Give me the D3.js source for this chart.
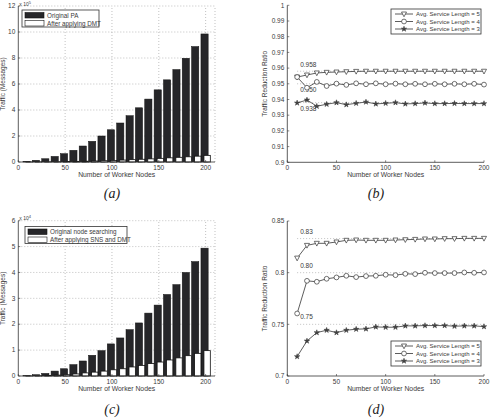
<!DOCTYPE html>
<html><head><meta charset="utf-8">
<script src="https://cdn.jsdelivr.net/npm/d3@7"></script>
<style>body{margin:0;background:#fff}svg{display:block}</style>
</head><body>
<svg id="c" width="497" height="418"></svg>
<script>
// ---- data ----
const nodes = [10,20,30,40,50,60,70,80,90,100,110,120,130,140,150,160,170,180,190,200];

// (a) traffic x10^5
const paOriginal = [0.05,0.13,0.25,0.43,0.64,0.9,1.23,1.59,2.0,2.48,3.0,3.56,4.17,4.84,5.55,6.32,7.11,7.98,8.88,9.85];
const paDMT      = [0.003,0.006,0.012,0.02,0.032,0.045,0.06,0.08,0.10,0.12,0.15,0.18,0.21,0.24,0.28,0.32,0.36,0.40,0.45,0.51];
const aTicksY = [0,2,4,6,8,10,12];
const aLegend = ["Original PA","After applying DMT"];

// (c) traffic x10^4
const nsOriginal = [0.01,0.05,0.1,0.19,0.28,0.44,0.58,0.8,0.98,1.24,1.47,1.79,2.05,2.43,2.74,3.15,3.53,4.0,4.42,4.94];
const nsSNSDMT   = [0.005,0.01,0.02,0.035,0.05,0.08,0.12,0.15,0.19,0.24,0.28,0.35,0.41,0.48,0.54,0.62,0.70,0.785,0.875,0.98];
const cTicksY = [0,1,2,3,4,5,6];
const cLegend = ["Original node searching","After applying SNS and DMT"];

// (b) traffic reduction ratio
const bLen5 = [0.9543,0.9556,0.9569,0.9573,0.9575,0.9577,0.9579,0.958,0.958,0.958,0.958,0.958,0.958,0.958,0.958,0.958,0.958,0.958,0.958,0.958];
const bLen4 = [0.9543,0.9475,0.9512,0.9486,0.9501,0.9493,0.9503,0.9497,0.9503,0.9497,0.9501,0.9497,0.95,0.9497,0.95,0.9497,0.95,0.9497,0.95,0.9495];
const bLen3 = [0.9378,0.9397,0.9357,0.937,0.938,0.9367,0.9376,0.9384,0.9372,0.9376,0.938,0.9372,0.9374,0.9378,0.9374,0.9374,0.9375,0.9374,0.9374,0.9374];
const bTicksY = [0.9,0.91,0.92,0.93,0.94,0.95,0.96,0.97,0.98,0.99,1];
const bRefs = [0.958,0.950,0.938];
const bRefLabels = ["0.958","0.950","0.938"];

// (d) traffic reduction ratio
const dLen5 = [0.8141,0.8264,0.8284,0.8284,0.8297,0.8313,0.8316,0.8313,0.8313,0.8313,0.8316,0.8319,0.8322,0.8326,0.8326,0.8329,0.8329,0.8332,0.8332,0.8332];
const dLen4 = [0.7605,0.7921,0.7912,0.7941,0.7954,0.797,0.7957,0.7967,0.797,0.798,0.7976,0.7989,0.7986,0.7999,0.7996,0.7996,0.7996,0.8002,0.7999,0.8002];
const dLen3 = [0.7188,0.7339,0.742,0.7443,0.742,0.7443,0.7453,0.7456,0.7475,0.7472,0.7472,0.7485,0.7485,0.7488,0.7488,0.7488,0.7482,0.7485,0.7485,0.7478];
const dTicksY = [0.7,0.75,0.8,0.85];
const dRefs = [0.833,0.800,0.750];
const dRefLabels = ["0.83","0.80","0.75"];

const xTicksBar = [0,50,100,150,200];
const xTicksLine = [0,50,100,150,200];
const lineLegend = ["Avg. Service Length = 5","Avg. Service Length = 4","Avg. Service Length = 3"];
const captions = ["(a)","(b)","(c)","(d)"];

// ---- drawing ----
const svg = d3.select("#c");
const FONT = "Liberation Sans, Arial, sans-serif";
const TXT = "#3a3a3a";

function axes(g, x, y, xt, yt, yfmt) {
  const [x0,x1] = x.range(), [y0,y1] = y.range();
  g.append("line").attr("x1",x0).attr("x2",x1).attr("y1",y0).attr("y2",y0).attr("stroke","#333").attr("stroke-width",0.8);
  g.append("line").attr("x1",x0).attr("x2",x0).attr("y1",y0).attr("y2",y1).attr("stroke","#333").attr("stroke-width",0.8);
  xt.forEach(t=>{
    g.append("line").attr("x1",x(t)).attr("x2",x(t)).attr("y1",y0).attr("y2",y0-2).attr("stroke","#333").attr("stroke-width",0.6);
    g.append("text").attr("x",x(t)).attr("y",y0+8).attr("text-anchor","middle").attr("font-size",6.5).attr("fill",TXT).attr("font-family",FONT).text(t);
  });
  yt.forEach(t=>{
    g.append("line").attr("x1",x0).attr("x2",x0+2).attr("y1",y(t)).attr("y2",y(t)).attr("stroke","#333").attr("stroke-width",0.6);
    g.append("text").attr("x",x0-3).attr("y",y(t)+2.2).attr("text-anchor","end").attr("font-size",6.5).attr("fill",TXT).attr("font-family",FONT).text(yfmt(t));
  });
}

function labels(g, x, y, ylab, yLabX) {
  const [x0,x1] = x.range(), [y0,y1] = y.range();
  g.append("text").attr("x",(x0+x1)/2).attr("y",y0+15).attr("text-anchor","middle").attr("font-size",6.8).attr("fill",TXT).attr("font-family",FONT).text("Number of Worker Nodes");
  g.append("text").attr("transform",`translate(${yLabX},${(y0+y1)/2}) rotate(-90)`).attr("text-anchor","middle").attr("font-size",6.5).attr("fill",TXT).attr("font-family",FONT).text(ylab);
}

function barPanel(o) {
  const g = svg.append("g");
  const x = d3.scaleLinear().domain([0,210]).range([o.left,o.right]);
  const y = d3.scaleLinear().domain([0,d3.max(o.ticks)]).range([o.bottom,o.top]);
  o.ticks.slice(1).forEach(t=>g.append("line").attr("x1",x(0)).attr("x2",x(210)).attr("y1",y(t)).attr("y2",y(t)).attr("stroke","#999").attr("stroke-width",0.6).attr("stroke-dasharray","1,2"));
  xTicksBar.slice(1).forEach(t=>g.append("line").attr("x1",x(t)).attr("x2",x(t)).attr("y1",y(0)).attr("y2",y(d3.max(o.ticks))).attr("stroke","#999").attr("stroke-width",0.6).attr("stroke-dasharray","1,2"));
  g.append("line").attr("x1",x(210)).attr("x2",x(210)).attr("y1",y(0)).attr("y2",y(d3.max(o.ticks))).attr("stroke","#999").attr("stroke-width",0.6).attr("stroke-dasharray","1,2");
  g.selectAll(".b1").data(nodes).join("rect")
    .attr("x",d=>x(d-5)).attr("width",d=>x(d+2.7)-x(d-5))
    .attr("y",(d,i)=>y(o.s1[i])).attr("height",(d,i)=>y(0)-y(o.s1[i]))
    .attr("fill","#262629").attr("stroke","#111").attr("stroke-width",0.5);
  g.selectAll(".b2").data(nodes).join("rect")
    .attr("x",d=>x(d-1.8)).attr("width",d=>x(d+5)-x(d-1.8))
    .attr("y",(d,i)=>y(o.s2[i])).attr("height",(d,i)=>y(0)-y(o.s2[i]))
    .attr("fill","#fff").attr("stroke","#111").attr("stroke-width",0.8);
  axes(g,x,y,xTicksBar,o.ticks,d=>d);
  labels(g,x,y,"Traffic (Messages)",o.left-13);
  const ex = g.append("text").attr("x",o.left+1).attr("y",o.top-0.5).attr("font-size",5).attr("fill",TXT).attr("font-family",FONT);
  ex.append("tspan").text("x 10");
  ex.append("tspan").attr("dy",-1.8).attr("font-size",4).text(o.exp);
  const L = o.legend;
  g.append("rect").attr("x",L.x).attr("y",L.y).attr("width",L.w).attr("height",17).attr("fill","#fff").attr("stroke","#333").attr("stroke-width",0.8);
  ["#262629","#fff"].forEach((c,i)=>{
    g.append("rect").attr("x",L.x+3).attr("y",L.y+2.5+i*8).attr("width",19).attr("height",5.5).attr("fill",c).attr("stroke","#111").attr("stroke-width",0.6);
    g.append("text").attr("x",L.x+25).attr("y",L.y+7.5+i*8).attr("font-size",6.3).attr("fill",TXT).attr("font-family",FONT).text(o.names[i]);
  });
}

function marker(g, type, cx, cy) {
  if (type===0) {
    const s=2.5;
    g.append("path").attr("d",`M${cx-s},${cy-s*0.8}L${cx+s},${cy-s*0.8}L${cx},${cy+s*1.1}Z`).attr("fill","#fff").attr("stroke","#333").attr("stroke-width",0.7);
  } else if (type===1) {
    g.append("circle").attr("cx",cx).attr("cy",cy).attr("r",2.4).attr("fill","#fff").attr("stroke","#333").attr("stroke-width",0.7);
  } else {
    g.append("path").attr("d",d3.symbol(d3.symbolStar,9)()).attr("transform",`translate(${cx},${cy})`).attr("fill","#444").attr("stroke","#333").attr("stroke-width",0.5);
  }
}

function linePanel(o) {
  const g = svg.append("g");
  const x = d3.scaleLinear().domain([0,200]).range([o.left,o.right]);
  const y = d3.scaleLinear().domain([o.ticks[0],o.ticks[o.ticks.length-1]]).range([o.bottom,o.top]);
  o.refs.forEach((r,i)=>{
    g.append("line").attr("x1",x(10)).attr("x2",x(200)).attr("y1",y(r)).attr("y2",y(r)).attr("stroke","#999").attr("stroke-width",0.6).attr("stroke-dasharray","1,2");
    g.append("text").attr("x",x(10)+3).attr("y",y(r)+o.refDy[i]).attr("font-size",6.5).attr("fill",TXT).attr("font-family",FONT).text(o.refLabels[i]);
  });
  const line = d3.line().x((d,i)=>x(nodes[i])).y(d=>y(d));
  o.series.forEach((s,k)=>{
    g.append("path").attr("d",line(s)).attr("fill","none").attr("stroke","#333").attr("stroke-width",0.8);
    s.forEach((v,i)=>marker(g,k,x(nodes[i]),y(v)));
  });
  axes(g,x,y,xTicksLine,o.ticks,o.fmt);
  labels(g,x,y,"Traffic Reduction Ratio",o.left-20);
  const L=o.legend;
  g.append("rect").attr("x",L.x).attr("y",L.y).attr("width",90).attr("height",25).attr("fill","#fff").attr("stroke","#333").attr("stroke-width",0.8);
  lineLegend.forEach((t,i)=>{
    const yy=L.y+5+i*7.5;
    g.append("line").attr("x1",L.x+4).attr("x2",L.x+22).attr("y1",yy).attr("y2",yy).attr("stroke","#333").attr("stroke-width",0.8);
    marker(g,i,L.x+13,yy);
    g.append("text").attr("x",L.x+25).attr("y",yy+2.1).attr("font-size",6).attr("fill",TXT).attr("font-family",FONT).text(t);
  });
}

barPanel({left:18.3,right:215,top:6,bottom:162,s1:paOriginal,s2:paDMT,ticks:aTicksY,exp:"5",names:aLegend,legend:{x:22,y:10,w:77}});
barPanel({left:18.3,right:215,top:220.7,bottom:376,s1:nsOriginal,s2:nsSNSDMT,ticks:cTicksY,exp:"4",names:cLegend,legend:{x:25,y:226.5,w:102}});
linePanel({left:287.3,right:484,top:5.3,bottom:162.3,series:[bLen5,bLen4,bLen3],ticks:bTicksY,fmt:d=>d3.format("~")(+d.toFixed(2)),refs:bRefs,refLabels:bRefLabels,refDy:[-4,8.5,8.5],legend:{x:391,y:9}});
linePanel({left:287.3,right:484,top:221,bottom:376,series:[dLen5,dLen4,dLen3],ticks:dTicksY,fmt:d=>d3.format("~")(+d.toFixed(2)),refs:dRefs,refLabels:dRefLabels,refDy:[-5,-5,-5],legend:{x:391,y:341}});

[[112,198],[376,198],[112,414],[376,414]].forEach((p,i)=>{
  svg.append("text").attr("x",p[0]).attr("y",p[1]).attr("text-anchor","middle").attr("font-size",14).attr("font-style","italic").attr("fill","#222").attr("font-family","Liberation Serif, DejaVu Serif, serif").text(captions[i]);
});
</script>
</body></html>
